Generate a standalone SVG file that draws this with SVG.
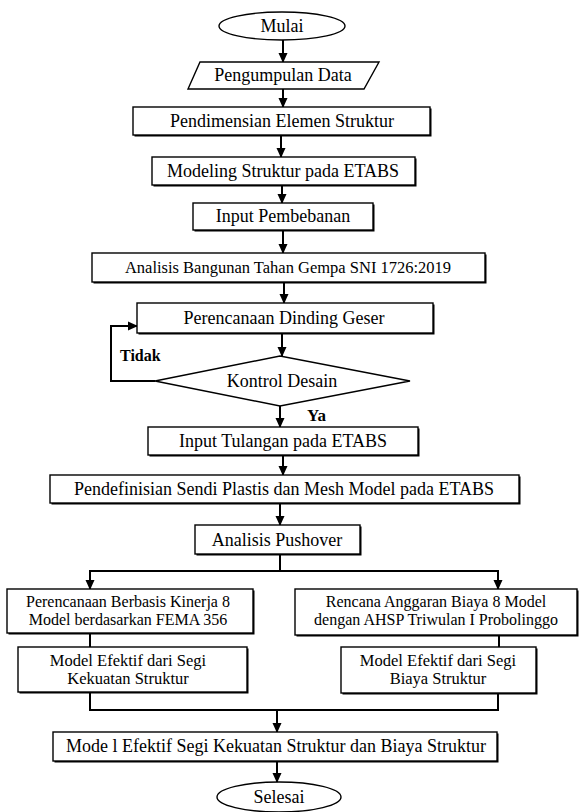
<svg xmlns="http://www.w3.org/2000/svg" width="584" height="812" viewBox="0 0 584 812">
<style>
.t{font-family:"Liberation Serif","Times New Roman",serif;font-size:18px;fill:#000;text-anchor:middle}
.s{font-size:16px}
.b{font-family:"Liberation Serif","Times New Roman",serif;font-weight:bold;fill:#000}
.box{fill:#fff;stroke:#000;stroke-width:1.4}
.sh{fill:#000}
.ln{fill:none;stroke:#000;stroke-width:2}
</style>
<defs>
<marker id="ah" markerUnits="userSpaceOnUse" markerWidth="10" markerHeight="10" refX="9" refY="5" orient="auto">
<path d="M0,0.5 L10,5 L0,9.5 z" fill="#000"/>
</marker>
</defs>
<rect width="584" height="812" fill="#fff"/>
<g id="connectors">
<line class="ln" x1="283" y1="40" x2="283" y2="62" marker-end="url(#ah)"/>
<line class="ln" x1="283" y1="89" x2="283" y2="107" marker-end="url(#ah)"/>
<line class="ln" x1="281" y1="135" x2="281" y2="157" marker-end="url(#ah)"/>
<line class="ln" x1="282" y1="185" x2="282" y2="203" marker-end="url(#ah)"/>
<line class="ln" x1="283" y1="230" x2="283" y2="253" marker-end="url(#ah)"/>
<line class="ln" x1="284" y1="283" x2="284" y2="303" marker-end="url(#ah)"/>
<line class="ln" x1="282" y1="334" x2="282" y2="356" marker-end="url(#ah)"/>
<polyline class="ln" points="155,381 111,381 111,326 137,326" marker-end="url(#ah)"/>
<line class="ln" x1="280" y1="406" x2="280" y2="427" marker-end="url(#ah)"/>
<line class="ln" x1="283" y1="455" x2="283" y2="475" marker-end="url(#ah)"/>
<line class="ln" x1="280" y1="503" x2="280" y2="525" marker-end="url(#ah)"/>
<polyline class="ln" points="280,555 280,571"/>
<polyline class="ln" points="90,580 90,571 498,571 498,580"/>
<line class="ln" x1="90" y1="571" x2="90" y2="589" marker-end="url(#ah)"/>
<line class="ln" x1="498" y1="571" x2="498" y2="589" marker-end="url(#ah)"/>
<line class="ln" x1="90" y1="633" x2="90" y2="647"/>
<line class="ln" x1="499" y1="636" x2="499" y2="647"/>
<polyline class="ln" points="90,692 90,710 498,710 498,693"/>
<line class="ln" x1="277" y1="710" x2="277" y2="732" marker-end="url(#ah)"/>
<line class="ln" x1="277" y1="761" x2="277" y2="782" marker-end="url(#ah)"/>
</g>
<g id="mulai">
<ellipse cx="282" cy="26" rx="63" ry="14" class="box"/>
<text class="t" x="282" y="32">Mulai</text>
</g>
<g id="pengumpulan">
<polygon points="200,62 379,62 364,89 188,89" class="box"/>
<text class="t" x="283" y="81">Pengumpulan Data</text>
</g>
<g id="pendimensian">
<rect x="134.5" y="108.5" width="297" height="28" class="sh"/>
<rect x="133" y="107" width="297" height="28" class="box"/>
<text class="t" x="282" y="127">Pendimensian Elemen Struktur</text>
</g>
<g id="modeling">
<rect x="153.5" y="158.5" width="263" height="28" class="sh"/>
<rect x="152" y="157" width="263" height="28" class="box"/>
<text class="t" x="283" y="177">Modeling Struktur pada ETABS</text>
</g>
<g id="input-pembebanan">
<rect x="194.5" y="204.5" width="180" height="27" class="sh"/>
<rect x="193" y="203" width="180" height="27" class="box"/>
<text class="t" x="283" y="222">Input Pembebanan</text>
</g>
<g id="analisis-gempa">
<rect x="93.5" y="254.5" width="393" height="29" class="sh"/>
<rect x="92" y="253" width="393" height="29" class="box"/>
<text class="t" x="288" y="273" style="font-size:16.5px">Analisis Bangunan Tahan Gempa SNI 1726:2019</text>
</g>
<g id="dinding-geser">
<rect x="138.5" y="304.5" width="296" height="30" class="sh"/>
<rect x="137" y="303" width="296" height="30" class="box"/>
<text class="t" x="284" y="324">Perencanaan Dinding Geser</text>
</g>
<g id="kontrol-desain">
<polygon points="155,381 280,356 410,381 280,406" class="box"/>
<text class="t" x="282" y="387">Kontrol Desain</text>
</g>
<text class="b" x="120" y="361" font-size="16">Tidak</text>
<text class="b" x="307" y="421" font-size="17">Ya</text>
<g id="input-tulangan">
<rect x="149.5" y="428.5" width="270" height="28" class="sh"/>
<rect x="148" y="427" width="270" height="28" class="box"/>
<text class="t" x="283" y="447">Input Tulangan pada ETABS</text>
</g>
<g id="pendefinisian">
<rect x="51.5" y="476.5" width="469" height="28" class="sh"/>
<rect x="50" y="475" width="469" height="28" class="box"/>
<text class="t" x="284" y="495">Pendefinisian Sendi Plastis dan Mesh Model pada ETABS</text>
</g>
<g id="pushover">
<rect x="196.5" y="526.5" width="165" height="29" class="sh"/>
<rect x="195" y="525" width="165" height="29" class="box"/>
<text class="t" x="277" y="546">Analisis Pushover</text>
</g>
<g id="kinerja">
<rect x="8.5" y="590.5" width="246" height="44" class="sh"/>
<rect x="7" y="589" width="246" height="44" class="box"/>
<text class="t s" x="128" y="607">Perencanaan Berbasis Kinerja 8</text>
<text class="t s" x="128" y="625">Model berdasarkan FEMA 356</text>
</g>
<g id="rab">
<rect x="296.5" y="590.5" width="282" height="46" class="sh"/>
<rect x="295" y="589" width="282" height="46" class="box"/>
<text class="t s" x="436" y="607">Rencana Anggaran Biaya 8 Model</text>
<text class="t s" x="436" y="625">dengan AHSP Triwulan I Probolinggo</text>
</g>
<g id="efektif-kekuatan">
<rect x="19.5" y="648.5" width="229" height="45" class="sh"/>
<rect x="18" y="647" width="229" height="45" class="box"/>
<text class="t" x="128" y="666" style="font-size:16.5px">Model Efektif dari Segi</text>
<text class="t" x="128" y="684" style="font-size:16.5px">Kekuatan Struktur</text>
</g>
<g id="efektif-biaya">
<rect x="342.5" y="648.5" width="195" height="46" class="sh"/>
<rect x="341" y="647" width="195" height="46" class="box"/>
<text class="t" x="438" y="666" style="font-size:16.5px">Model Efektif dari Segi</text>
<text class="t" x="438" y="684" style="font-size:16.5px">Biaya Struktur</text>
</g>
<g id="model-efektif">
<rect x="54.5" y="733.5" width="444" height="29" class="sh"/>
<rect x="53" y="732" width="444" height="29" class="box"/>
<text class="t" x="276" y="752">Mode l Efektif Segi Kekuatan Struktur dan Biaya Struktur</text>
</g>
<g id="selesai">
<ellipse cx="279" cy="797" rx="62" ry="15" class="box"/>
<text class="t" x="279" y="803">Selesai</text>
</g>
</svg>
